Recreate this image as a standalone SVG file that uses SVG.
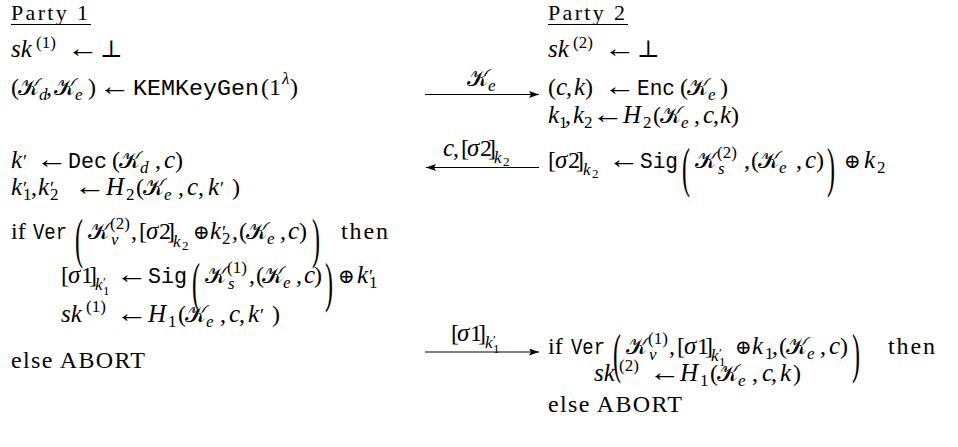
<svg xmlns="http://www.w3.org/2000/svg" width="958" height="447" viewBox="0 0 958 447">
<style>
text { font-family: "Liberation Serif", "DejaVu Serif", serif; font-size: 24px; fill: #000; }
.hd { font-size: 22px; }
.i { font-style: italic; font-size: 25px; }
.s { font-size: 17px; }
.ss { font-size: 13px; }
.p { font-size: 19px; font-style: normal; }
.ps { font-size: 13px; font-style: normal; }
.t { font-family: "Liberation Mono", "DejaVu Sans Mono", monospace; font-size: 22px; }
.K { font-family: "DejaVu Serif", "DejaVu Sans", "Noto Sans", serif; font-style: normal; font-size: 23px; }
.op { font-family: "DejaVu Serif", serif; font-size: 20px; }
.big { font-size: 24px; }
.ar { font-size: 26px; }
.ul { stroke: #000; stroke-width: 1.1; }
.conn line { stroke: #000; stroke-width: 1.2; }
</style>
<defs>
<marker id="ah" markerWidth="11" markerHeight="8" refX="10" refY="3.5" orient="auto" markerUnits="userSpaceOnUse">
<path d="M0,0 L10,3.5 L0,7 L2,3.5 z" fill="#000"/>
</marker>
</defs>
<rect width="958" height="447" fill="#fff"/>

<g id="party1">
<text class="hd" x="11" y="19.5" textLength="77" lengthAdjust="spacing">Party 1</text>
<line class="ul" x1="11" y1="24.5" x2="91" y2="24.5"/>
<text><tspan class="i" x="11" y="56.5">sk</tspan><tspan class="s" x="36" y="47.5">(1)</tspan><tspan x="100" y="56.5">⊥</tspan></text>
<text class="ar" x="67" y="56.5" textLength="32" lengthAdjust="spacingAndGlyphs">←</text>
<text><tspan x="11" y="95">(</tspan><tspan class="K" x="18" y="95">𝒦</tspan><tspan class="s i" x="39" y="100">d</tspan><tspan x="46" y="95">,</tspan><tspan class="K" x="54" y="95">𝒦</tspan><tspan class="s i" x="75" y="100">e</tspan><tspan x="88" y="95">)</tspan><tspan class="t" x="133" y="95" textLength="126" lengthAdjust="spacingAndGlyphs">KEMKeyGen</tspan><tspan x="261" y="95">(1</tspan><tspan class="s i" x="282" y="84">λ</tspan><tspan x="290" y="95">)</tspan></text>
<text class="ar" x="99" y="95" textLength="32" lengthAdjust="spacingAndGlyphs">←</text>
<text><tspan class="i" x="11" y="167.5">k</tspan><tspan class="p" x="23" y="167.5">′</tspan><tspan class="t" x="68" y="167.5" textLength="39" lengthAdjust="spacingAndGlyphs">Dec</tspan><tspan x="112" y="167.5">(</tspan><tspan class="K" x="119" y="167.5">𝒦</tspan><tspan class="s i" x="140" y="172.5">d</tspan><tspan x="155" y="167.5">,</tspan><tspan class="i" x="164" y="167.5">c</tspan><tspan x="175" y="167.5">)</tspan></text>
<text class="ar" x="36" y="167.5" textLength="32" lengthAdjust="spacingAndGlyphs">←</text>
<text><tspan class="i" x="11" y="195">k</tspan><tspan class="p" x="23" y="195">′</tspan><tspan class="s" x="23" y="200">1</tspan><tspan x="31" y="195">,</tspan><tspan class="i" x="38" y="195">k</tspan><tspan class="p" x="50" y="195">′</tspan><tspan class="s" x="50" y="200">2</tspan><tspan class="i" x="106" y="195">H</tspan><tspan class="s" x="126" y="200">2</tspan><tspan x="136" y="195">(</tspan><tspan class="K" x="143" y="195">𝒦</tspan><tspan class="s i" x="164" y="200">e</tspan><tspan x="178" y="195">,</tspan><tspan class="i" x="187" y="195">c</tspan><tspan x="198" y="195">,</tspan><tspan class="i" x="208" y="195">k</tspan><tspan class="p" x="220" y="195">′</tspan><tspan x="232" y="195">)</tspan></text>
<text class="ar" x="74" y="195" textLength="32" lengthAdjust="spacingAndGlyphs">←</text>
<text><tspan x="11" y="239">if</tspan><tspan class="t" x="33" y="239" textLength="34" lengthAdjust="spacingAndGlyphs">Ver</tspan><tspan class="K" x="88" y="239">𝒦</tspan><tspan class="s" x="110" y="229">(2)</tspan><tspan class="s i" x="111" y="245">v</tspan><tspan x="131" y="239">,</tspan><tspan x="139" y="239">[</tspan><tspan class="i" x="146" y="239">σ</tspan><tspan x="159" y="239">2</tspan><tspan x="167" y="239">]</tspan><tspan class="s i" x="173" y="247">k</tspan><tspan class="ss" x="182" y="250">2</tspan><tspan class="op" x="193" y="239">⊕</tspan><tspan class="i" x="210" y="239">k</tspan><tspan class="p" x="222" y="239">′</tspan><tspan class="s" x="222" y="244">2</tspan><tspan x="232" y="239">,</tspan><tspan x="239" y="239">(</tspan><tspan class="K" x="246" y="239">𝒦</tspan><tspan class="s i" x="267" y="244">e</tspan><tspan x="280" y="239">,</tspan><tspan class="i" x="288" y="239">c</tspan><tspan x="299" y="239">)</tspan><tspan x="341" y="239" textLength="47" lengthAdjust="spacing">then</tspan></text>
<text class="big" transform="translate(75,257) scale(1,2.3)">(</text>
<text class="big" transform="translate(312,257) scale(1,2.3)">)</text>
<text><tspan x="61" y="283">[</tspan><tspan class="i" x="68" y="283">σ</tspan><tspan x="81" y="283">1</tspan><tspan x="89" y="283">]</tspan><tspan class="s i" x="95" y="290">k</tspan><tspan class="ps" x="103" y="286">′</tspan><tspan class="ss" x="103" y="295">1</tspan><tspan class="t" x="148" y="283" textLength="39" lengthAdjust="spacingAndGlyphs">Sig</tspan><tspan class="K" x="205" y="283">𝒦</tspan><tspan class="s" x="227" y="273">(1)</tspan><tspan class="s i" x="228" y="289">s</tspan><tspan x="249" y="283">,</tspan><tspan x="256" y="283">(</tspan><tspan class="K" x="262" y="283">𝒦</tspan><tspan class="s i" x="283" y="288">e</tspan><tspan x="296" y="283">,</tspan><tspan class="i" x="304" y="283">c</tspan><tspan x="314" y="283">)</tspan><tspan class="op" x="338" y="283">⊕</tspan><tspan class="i" x="357" y="283">k</tspan><tspan class="p" x="369" y="283">′</tspan><tspan class="s" x="369" y="288">1</tspan></text>
<text class="ar" x="116" y="283" textLength="32" lengthAdjust="spacingAndGlyphs">←</text>
<text class="big" transform="translate(192,301) scale(1,2.3)">(</text>
<text class="big" transform="translate(325,301) scale(1,2.3)">)</text>
<text><tspan class="i" x="61" y="321.5">sk</tspan><tspan class="s" x="86" y="312">(1)</tspan><tspan class="i" x="148" y="321.5">H</tspan><tspan class="s" x="168" y="326.5">1</tspan><tspan x="178" y="321.5">(</tspan><tspan class="K" x="185" y="321.5">𝒦</tspan><tspan class="s i" x="206" y="326.5">e</tspan><tspan x="220" y="321.5">,</tspan><tspan class="i" x="229" y="321.5">c</tspan><tspan x="239" y="321.5">,</tspan><tspan class="i" x="248" y="321.5">k</tspan><tspan class="p" x="260" y="321.5">′</tspan><tspan x="272" y="321.5">)</tspan></text>
<text class="ar" x="116" y="321.5" textLength="32" lengthAdjust="spacingAndGlyphs">←</text>
<text x="11" y="368" textLength="134" lengthAdjust="spacing">else ABORT</text>
</g>

<g id="party2">
<text class="hd" x="548" y="19.5" textLength="77" lengthAdjust="spacing">Party 2</text>
<line class="ul" x1="548" y1="24.5" x2="628" y2="24.5"/>
<text><tspan class="i" x="548" y="56.5">sk</tspan><tspan class="s" x="573" y="47.5">(2)</tspan><tspan x="637" y="56.5">⊥</tspan></text>
<text class="ar" x="604" y="56.5" textLength="32" lengthAdjust="spacingAndGlyphs">←</text>
<text><tspan x="548" y="95">(</tspan><tspan class="i" x="556" y="95">c</tspan><tspan x="566" y="95">,</tspan><tspan class="i" x="574" y="95">k</tspan><tspan x="585" y="95">)</tspan><tspan class="t" x="637" y="95" textLength="38" lengthAdjust="spacingAndGlyphs">Enc</tspan><tspan x="680" y="95">(</tspan><tspan class="K" x="687" y="95">𝒦</tspan><tspan class="s i" x="708" y="100">e</tspan><tspan x="720" y="95">)</tspan></text>
<text class="ar" x="604" y="95" textLength="32" lengthAdjust="spacingAndGlyphs">←</text>
<text><tspan class="i" x="548" y="123">k</tspan><tspan class="s" x="559" y="128">1</tspan><tspan x="565" y="123">,</tspan><tspan class="i" x="573" y="123">k</tspan><tspan class="s" x="584" y="128">2</tspan><tspan class="i" x="623" y="123">H</tspan><tspan class="s" x="643" y="128">2</tspan><tspan x="653" y="123">(</tspan><tspan class="K" x="660" y="123">𝒦</tspan><tspan class="s i" x="681" y="128">e</tspan><tspan x="694" y="123">,</tspan><tspan class="i" x="703" y="123">c</tspan><tspan x="713" y="123">,</tspan><tspan class="i" x="720" y="123">k</tspan><tspan x="731" y="123">)</tspan></text>
<text class="ar" x="592" y="123" textLength="32" lengthAdjust="spacingAndGlyphs">←</text>
<text><tspan x="548" y="168">[</tspan><tspan class="i" x="555" y="168">σ</tspan><tspan x="568" y="168">2</tspan><tspan x="576" y="168">]</tspan><tspan class="s i" x="583" y="175">k</tspan><tspan class="ss" x="592" y="178">2</tspan><tspan class="t" x="640" y="168" textLength="38" lengthAdjust="spacingAndGlyphs">Sig</tspan><tspan class="K" x="695" y="168">𝒦</tspan><tspan class="s" x="717" y="158">(2)</tspan><tspan class="s i" x="718" y="174">s</tspan><tspan x="744" y="168">,</tspan><tspan x="751" y="168">(</tspan><tspan class="K" x="758" y="168">𝒦</tspan><tspan class="s i" x="779" y="173">e</tspan><tspan x="796" y="168">,</tspan><tspan class="i" x="805" y="168">c</tspan><tspan x="816" y="168">)</tspan><tspan class="op" x="844" y="168">⊕</tspan><tspan class="i" x="864" y="168">k</tspan><tspan class="s" x="877" y="173">2</tspan></text>
<text class="ar" x="608" y="168" textLength="32" lengthAdjust="spacingAndGlyphs">←</text>
<text class="big" transform="translate(682,186) scale(1,2.3)">(</text>
<text class="big" transform="translate(827,186) scale(1,2.3)">)</text>
<text><tspan x="548" y="354">if</tspan><tspan class="t" x="571" y="354" textLength="34" lengthAdjust="spacingAndGlyphs">Ver</tspan><tspan class="K" x="626" y="354">𝒦</tspan><tspan class="s" x="648" y="344">(1)</tspan><tspan class="s i" x="649" y="360">v</tspan><tspan x="669" y="354">,</tspan><tspan x="677" y="354">[</tspan><tspan class="i" x="684" y="354">σ</tspan><tspan x="697" y="354">1</tspan><tspan x="705" y="354">]</tspan><tspan class="s i" x="711" y="361">k</tspan><tspan class="ps" x="719" y="357">′</tspan><tspan class="ss" x="719" y="366">1</tspan><tspan class="op" x="735" y="354">⊕</tspan><tspan class="i" x="752" y="354">k</tspan><tspan class="s" x="765" y="359">1</tspan><tspan x="772" y="354">,</tspan><tspan x="779" y="354">(</tspan><tspan class="K" x="786" y="354">𝒦</tspan><tspan class="s i" x="807" y="359">e</tspan><tspan x="820" y="354">,</tspan><tspan class="i" x="829" y="354">c</tspan><tspan x="840" y="354">)</tspan><tspan x="888" y="354" textLength="47" lengthAdjust="spacing">then</tspan></text>
<text class="big" transform="translate(613,372) scale(1,2.3)">(</text>
<text class="big" transform="translate(852,372) scale(1,2.3)">)</text>
<text><tspan class="i" x="594" y="380.5">sk</tspan><tspan class="s" x="619" y="371">(2)</tspan><tspan class="i" x="680" y="380.5">H</tspan><tspan class="s" x="700" y="385.5">1</tspan><tspan x="710" y="380.5">(</tspan><tspan class="K" x="717" y="380.5">𝒦</tspan><tspan class="s i" x="738" y="385.5">e</tspan><tspan x="752" y="380.5">,</tspan><tspan class="i" x="762" y="380.5">c</tspan><tspan x="771" y="380.5">,</tspan><tspan class="i" x="780" y="380.5">k</tspan><tspan x="793" y="380.5">)</tspan></text>
<text class="ar" x="649" y="380.5" textLength="32" lengthAdjust="spacingAndGlyphs">←</text>
<text x="548" y="412" textLength="134" lengthAdjust="spacing">else ABORT</text>
</g>

<g id="messages" class="conn">
<line x1="425" y1="94.5" x2="539" y2="94.5" marker-end="url(#ah)"/>
<text><tspan class="K" x="467" y="86">𝒦</tspan><tspan class="s i" x="488" y="91">e</tspan></text>
<line x1="539" y1="167.5" x2="426" y2="167.5" marker-end="url(#ah)"/>
<text><tspan class="i" x="443" y="156">c</tspan><tspan x="453" y="156">,</tspan><tspan x="461" y="156">[</tspan><tspan class="i" x="467" y="156">σ</tspan><tspan x="480" y="156">2</tspan><tspan x="488" y="156">]</tspan><tspan class="s i" x="494" y="163">k</tspan><tspan class="ss" x="503" y="166">2</tspan></text>
<line x1="425" y1="352" x2="539" y2="352" marker-end="url(#ah)"/>
<text><tspan x="451" y="341">[</tspan><tspan class="i" x="457" y="341">σ</tspan><tspan x="470" y="341">1</tspan><tspan x="478" y="341">]</tspan><tspan class="s i" x="485" y="348">k</tspan><tspan class="ps" x="493" y="344">′</tspan><tspan class="ss" x="493" y="353">1</tspan></text>
</g>
</svg>
